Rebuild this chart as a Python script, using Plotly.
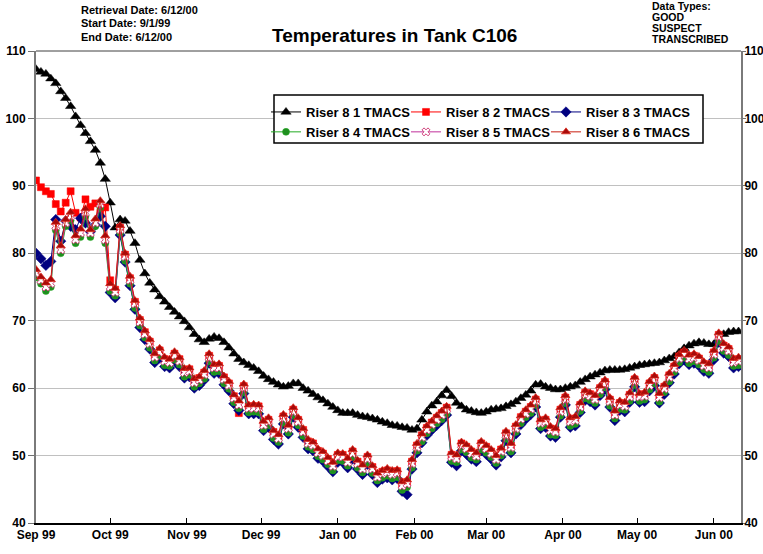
import plotly.graph_objects as go
import pandas as pd

# Readings every 2 days from 1 Sep 1999
dates = pd.date_range("1999-09-01", periods=143, freq="2D")

riser_1 = [107.3, 106.9, 106.6, 105.9, 105.2, 104.0, 103.0, 101.8, 100.3, 99.0,
           97.8, 96.6, 95.3, 93.4, 91.0, 87.5, 83.8, 85.0, 84.8, 83.3,
           81.5, 79.0, 77.0, 75.6, 74.6, 73.6, 72.8, 72.0, 71.3, 70.6,
           69.9, 69.0, 68.0, 67.2, 66.8, 67.3, 67.6, 67.4, 66.8, 66.0,
           65.1, 64.3, 63.8, 63.4, 63.0, 62.5, 61.8, 61.3, 60.9, 60.5,
           60.2, 60.3, 60.7, 60.7, 60.0, 59.6, 59.1, 58.6, 58.2, 57.7,
           57.2, 56.7, 56.3, 56.3, 56.3, 56.0, 55.8, 55.7, 55.5, 55.3,
           55.0, 54.8, 54.5, 54.4, 54.2, 54.1, 53.8, 54.0, 55.3, 56.5,
           57.4, 58.0, 58.9, 59.7, 58.8, 57.8, 57.3, 56.8, 56.6, 56.4,
           56.3, 56.5, 56.8, 56.9, 57.0, 57.3, 57.6, 58.0, 58.5, 59.0,
           59.6, 60.5, 60.6, 60.2, 60.0, 59.8, 59.8, 60.0, 60.2, 60.4,
           60.9, 61.3, 61.7, 62.0, 62.3, 62.6, 62.7, 62.7, 62.7, 62.8,
           63.0, 63.2, 63.4, 63.5, 63.6, 63.7, 63.8, 64.1, 64.4, 64.7,
           65.3, 65.9, 66.3, 66.6, 66.8, 66.7, 66.5, 66.5, 67.3, 68.0,
           68.3, 68.4, 68.4]

riser_2 = [90.8, 89.8, 89.2, 88.8, 87.3, 86.2, 87.5, 89.2, 86.0, 85.3,
           88.0, 86.9, 87.4, 86.0, 86.8, 76.0, 74.6, 83.8, 79.8, 76.3,
           72.8, 70.1, 68.3, 66.9, 64.9, 65.6, 64.3, 64.1, 65.1, 64.3,
           62.6, 62.8, 61.1, 61.5, 62.3, 64.8, 63.3, 63.3, 61.6, 60.7,
           58.8, 56.3, 60.3, 57.3, 57.3, 57.3, 54.8, 55.3, 53.5, 52.8,
           55.8, 54.3, 56.8, 55.3, 53.8, 52.1, 51.8, 50.7, 50.3, 49.5,
           48.7, 50.1, 50.1, 49.3, 50.6, 49.1, 48.3, 49.8, 48.3, 47.1,
           47.6, 47.8, 47.5, 47.7, 45.8, 46.1, 49.1, 51.5, 53.0, 54.1,
           54.9, 55.6, 56.3, 57.1, 50.1, 49.8, 51.8, 51.3, 50.6, 50.2,
           51.8, 51.3, 50.6, 49.7, 50.9, 53.3, 51.5, 54.3, 55.7, 56.5,
           57.2, 58.3, 55.1, 55.3, 54.0, 53.8, 56.8, 58.6, 55.3, 55.5,
           57.5, 59.3, 59.1, 58.6, 60.0, 60.9, 58.3, 56.3, 57.8, 57.6,
           59.0, 61.3, 59.0, 59.1, 60.7, 61.5, 58.9, 60.2, 61.9, 63.2,
           64.7, 65.3, 64.6, 64.8, 64.4, 63.6, 63.3, 65.3, 67.9, 66.3,
           65.8, 64.1, 64.3]

riser_3 = [80.0, 79.2, 78.2, 78.8, 85.0, 81.8, 84.8, 84.0, 83.5, 85.2,
           84.5, 83.2, 84.2, 85.5, 84.0, 74.2, 73.4, 82.7, 78.7, 75.2,
           71.7, 69.0, 67.2, 65.8, 63.8, 64.5, 63.2, 63.0, 64.0, 63.2,
           61.5, 61.7, 60.0, 60.4, 61.2, 63.7, 62.2, 62.2, 60.5, 59.6,
           57.7, 56.7, 59.2, 56.2, 56.2, 56.2, 53.7, 54.2, 52.4, 51.7,
           54.7, 53.2, 55.7, 54.2, 52.7, 51.0, 50.7, 49.6, 49.2, 48.4,
           47.6, 49.0, 49.0, 48.2, 49.5, 48.0, 47.2, 48.7, 47.2, 46.0,
           46.5, 46.7, 46.4, 46.6, 44.7, 44.2, 48.0, 50.4, 51.9, 53.0,
           53.8, 54.5, 55.2, 56.0, 49.0, 48.5, 50.7, 50.2, 49.5, 49.1,
           50.7, 50.2, 49.5, 48.6, 49.8, 52.2, 50.4, 53.2, 54.6, 55.4,
           56.1, 57.2, 54.0, 54.2, 52.9, 52.7, 55.7, 57.5, 54.2, 54.4,
           56.4, 58.2, 58.0, 57.5, 58.9, 59.8, 57.2, 55.2, 56.7, 56.5,
           57.9, 60.2, 57.9, 58.0, 59.6, 60.4, 57.8, 59.1, 60.8, 62.1,
           63.6, 64.2, 63.5, 63.7, 63.3, 62.5, 62.2, 64.2, 66.8, 65.2,
           64.7, 63.0, 63.2]

riser_4 = [76.4, 75.5, 74.4, 75.0, 83.4, 80.0, 84.0, 84.9, 81.5, 82.4,
           85.5, 82.4, 84.0, 86.8, 81.5, 74.4, 73.7, 83.0, 78.9, 75.5,
           71.9, 69.3, 67.5, 66.0, 64.1, 64.8, 63.4, 63.3, 64.2, 63.5,
           61.7, 62.0, 60.2, 60.7, 61.4, 64.0, 62.4, 62.5, 60.7, 59.9,
           57.9, 57.0, 59.4, 56.4, 56.5, 56.4, 53.9, 54.5, 52.6, 52.0,
           54.9, 53.4, 56.0, 54.5, 52.9, 51.3, 50.9, 49.9, 49.4, 48.7,
           47.8, 49.3, 49.2, 48.5, 49.8, 48.2, 47.5, 48.9, 47.4, 46.3,
           46.7, 47.0, 46.6, 46.8, 44.9, 45.3, 48.2, 50.7, 52.1, 53.3,
           54.0, 54.8, 55.4, 56.2, 49.2, 49.0, 50.9, 50.5, 49.7, 49.4,
           50.9, 50.4, 49.8, 48.9, 50.0, 52.5, 50.6, 53.5, 54.8, 55.7,
           56.3, 57.5, 54.2, 54.5, 53.1, 53.0, 55.9, 57.8, 54.4, 54.7,
           56.6, 58.5, 58.2, 57.8, 59.1, 60.1, 57.4, 55.5, 56.9, 56.8,
           58.1, 60.5, 58.1, 58.3, 59.8, 60.7, 58.0, 59.4, 61.0, 62.4,
           63.8, 64.5, 63.7, 64.0, 63.5, 62.8, 62.4, 64.5, 67.0, 65.5,
           64.9, 63.3, 63.4]

riser_5 = [77.0, 76.0, 75.0, 75.5, 84.0, 80.5, 84.5, 85.5, 82.0, 83.0,
           86.0, 83.0, 84.5, 87.3, 82.0, 75.0, 74.2, 83.5, 79.5, 76.0,
           72.5, 69.8, 68.0, 66.6, 64.6, 65.3, 64.0, 63.8, 64.8, 64.0,
           62.3, 62.5, 60.8, 61.2, 62.0, 64.5, 63.0, 63.0, 61.3, 60.4,
           58.5, 57.5, 60.0, 57.0, 57.0, 57.0, 54.5, 55.0, 53.2, 52.5,
           55.5, 54.0, 56.5, 55.0, 53.5, 51.8, 51.5, 50.4, 50.0, 49.2,
           48.4, 49.8, 49.8, 49.0, 50.3, 48.8, 48.0, 49.5, 48.0, 46.8,
           47.3, 47.5, 47.2, 47.4, 45.5, 45.8, 48.8, 51.2, 52.7, 53.8,
           54.6, 55.3, 56.0, 56.8, 49.8, 49.5, 51.5, 51.0, 50.3, 49.9,
           51.5, 51.0, 50.3, 49.4, 50.6, 53.0, 51.2, 54.0, 55.4, 56.2,
           56.9, 58.0, 54.8, 55.0, 53.7, 53.5, 56.5, 58.3, 55.0, 55.2,
           57.2, 59.0, 58.8, 58.3, 59.7, 60.6, 58.0, 56.0, 57.5, 57.3,
           58.7, 61.0, 58.7, 58.8, 60.4, 61.2, 58.6, 59.9, 61.6, 62.9,
           64.4, 65.0, 64.3, 64.5, 64.1, 63.3, 63.0, 65.0, 67.6, 66.0,
           65.5, 63.8, 64.0]

riser_6 = [77.6, 76.5, 75.6, 76.1, 84.6, 81.1, 85.0, 86.1, 82.6, 83.6,
           86.6, 83.5, 85.1, 87.8, 82.6, 75.5, 74.8, 84.1, 80.0, 76.6,
           73.0, 70.4, 68.5, 67.2, 65.1, 65.9, 64.6, 64.3, 65.4, 64.5,
           62.9, 63.0, 61.4, 61.7, 62.6, 65.1, 63.5, 63.6, 61.8, 61.0,
           59.0, 58.1, 60.6, 57.5, 57.6, 57.5, 55.1, 55.6, 53.7, 53.1,
           56.1, 54.5, 57.1, 55.6, 54.0, 52.4, 52.0, 51.0, 50.6, 49.7,
           49.0, 50.4, 50.3, 49.6, 50.9, 49.3, 48.6, 50.1, 48.5, 47.4,
           47.8, 48.1, 47.8, 47.9, 46.1, 46.4, 49.4, 51.8, 53.2, 54.4,
           55.1, 55.9, 56.6, 57.3, 50.4, 50.1, 52.0, 51.6, 50.9, 50.4,
           52.1, 51.5, 50.9, 50.0, 51.1, 53.6, 51.8, 54.6, 55.9, 56.8,
           57.5, 58.6, 55.3, 55.6, 54.3, 54.0, 57.1, 58.9, 55.6, 55.8,
           57.8, 59.6, 59.3, 58.9, 60.3, 61.2, 58.6, 56.6, 58.1, 57.9,
           59.3, 61.6, 59.2, 59.4, 61.0, 61.8, 59.2, 60.5, 62.2, 63.5,
           65.0, 65.6, 64.9, 65.1, 64.7, 63.9, 63.6, 65.6, 68.2, 66.6,
           66.1, 64.4, 64.6]

names = ["Riser 8 1 TMACS", "Riser 8 2 TMACS", "Riser 8 3 TMACS",
         "Riser 8 4 TMACS", "Riser 8 5 TMACS", "Riser 8 6 TMACS"]
series = [riser_1, riser_2, riser_3, riser_4, riser_5, riser_6]

header_left = ["Retrieval Date: 6/12/00", "Start Date: 9/1/99", "End Date: 6/12/00"]
header_right = ["Data Types:", "GOOD", "SUSPECT", "TRANSCRIBED"]
title_text = "Temperatures in Tank C106"

FONT = "Liberation Sans, Arial, sans-serif"

styles = [
    dict(line="black", marker=dict(symbol="triangle-up", size=9, color="black",
                                   line=dict(color="black", width=0.5))),
    dict(line="#ff0000", marker=dict(symbol="square", size=7, color="#ff0000",
                                     line=dict(color="#ff0000", width=0.5))),
    dict(line="#000080", marker=dict(symbol="diamond", size=8, color="#000080",
                                     line=dict(color="#000080", width=0.5))),
    dict(line="#22aa22", marker=dict(symbol="circle", size=7, color="#1f8f1f",
                                     line=dict(color="#22aa22", width=0.5))),
    dict(line="#c0309a", marker=dict(symbol="x", size=7, color="white",
                                     line=dict(color="#d0407a", width=1))),
    dict(line="#c81e10", marker=dict(symbol="triangle-up", size=8, color="#a80a0a",
                                     line=dict(color="#e02a1a", width=0.7))),
]

# legend columns: (1,4), (2,5), (3,6)
legend_of = ["legend", "legend2", "legend3", "legend", "legend2", "legend3"]

fig = go.Figure()
for i, (nm, vals, st) in enumerate(zip(names, series, styles)):
    fig.add_trace(go.Scatter(
        x=dates, y=vals, name=nm, mode="lines+markers",
        line=dict(color=st["line"], width=1),
        marker=st["marker"],
        legend=legend_of[i],
    ))

# invisible trace to activate the right-hand axis
fig.add_trace(go.Scatter(x=dates[:1], y=riser_1[:1], yaxis="y2", mode="markers",
                         marker=dict(opacity=0), showlegend=False, hoverinfo="skip"))

L, R, T, B = 36, 22, 51, 31
W, H = 763, 554
pw, ph = W - L - R, H - T - B

def px(x):
    return (x - L) / pw

def py(y):
    return (H - B - y) / ph

yax = dict(range=[40, 110], dtick=10, ticks="outside", tickcolor="#707070",
           showline=True, linecolor="#7a7a7a", linewidth=2, zeroline=False,
           automargin=False,
           tickfont=dict(family=FONT, size=12, color="black", weight="bold"))

legend_common = dict(orientation="v", xanchor="left", yanchor="top",
                     bgcolor="rgba(0,0,0,0)", borderwidth=0,
                     font=dict(family=FONT, size=13, color="black", weight="bold"),
                     itemwidth=30, tracegroupgap=0, traceorder="normal")

fig.update_layout(
    width=W, height=H,
    margin=dict(l=L, r=R, t=T, b=B),
    plot_bgcolor="white", paper_bgcolor="white",
    xaxis=dict(type="date", range=["1999-09-01", "2000-06-12"],
               tick0="1999-09-01", dtick="M1", tickformat="%b %y",
               ticks="inside", ticklen=5, tickcolor="black",
               showgrid=False, showline=True, linecolor="black", linewidth=1.5,
               zeroline=False, automargin=False,
               tickfont=dict(family=FONT, size=12, color="black", weight="bold")),
    yaxis=dict(**yax, ticklen=6, showgrid=True, gridcolor="#c0c0c0", gridwidth=1),
    yaxis2=dict(**yax, ticklen=3, ticklabelstandoff=-4, overlaying="y", side="right",
                showgrid=False),
    legend=dict(**legend_common, x=px(266), y=py(97)),
    legend2=dict(**legend_common, x=px(406), y=py(97)),
    legend3=dict(**legend_common, x=px(546), y=py(97)),
    showlegend=True,
    shapes=[
        dict(type="rect", xref="paper", yref="paper", layer="above",
             x0=px(274), x1=px(703), y0=py(143), y1=py(95),
             fillcolor="white", line=dict(color="black", width=1.5)),
        dict(type="line", xref="paper", yref="paper", x0=0, x1=1, y0=1, y1=1,
             line=dict(color="#404040", width=1)),
    ],
)

annotations = []
for i, t in enumerate(header_left):
    annotations.append(dict(text=t, xref="paper", yref="paper", x=px(79), y=py(10 + 13.5 * i),
                            xanchor="left", yanchor="middle", showarrow=False,
                            font=dict(family=FONT, size=11, color="black", weight="bold")))
for i, t in enumerate(header_right):
    annotations.append(dict(text=t, xref="paper", yref="paper", x=px(650), y=py(6 + 11 * i),
                            xanchor="left", yanchor="middle", showarrow=False,
                            font=dict(family=FONT, size=10.5, color="black", weight="bold")))
annotations.append(dict(text=title_text, xref="paper", yref="paper", x=px(395), y=py(35),
                        xanchor="center", yanchor="middle", showarrow=False,
                        font=dict(family=FONT, size=19, color="black", weight="bold")))
fig.update_layout(annotations=annotations)

fig.write_html("out.html", config={"displayModeBar": False},
               post_script="document.body.style.margin='0';document.body.style.padding='0';")
